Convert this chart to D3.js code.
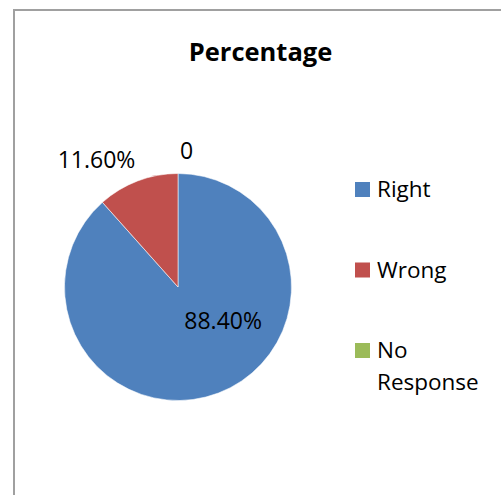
<!DOCTYPE html>
<html>
<head>
<meta charset="utf-8">
<script src="https://cdn.jsdelivr.net/npm/d3@7/dist/d3.min.js"></script>
<style>
  html, body { margin: 0; padding: 0; background: #fff; }
  svg { display: block; }
  text { font-family: "Open Sans", sans-serif; fill: #000; }
</style>
</head>
<body>
<svg id="chart" width="501" height="495"></svg>
<script>
// Survey answers, in percent
const categories = ["Right", "Wrong", "No Response"];
const values = [88.4, 11.6, 0];
const colors = ["#4F81BD", "#C0504D", "#9BBB59"];
const title = "Percentage";

const fmt = v => v === 0 ? "0" : v.toFixed(2) + "%";

const svg = d3.select("#chart");
const W = 501, H = 495;

// chart frame (runs off the right and bottom edges)
svg.append("rect")
  .attr("x", 14).attr("y", 10)
  .attr("width", W + 20).attr("height", H + 20)
  .attr("fill", "#fff")
  .attr("stroke", "#a0a0a0")
  .attr("stroke-width", 2);

svg.append("text")
  .attr("x", 260.5).attr("y", 61)
  .attr("text-anchor", "middle")
  .attr("font-weight", "bold")
  .attr("font-size", 25.5)
  .text(title);

const cx = 178, cy = 287, r = 113.5;
const data = categories.map((c, i) => ({ name: c, value: values[i], color: colors[i] }));

const pie = d3.pie().value(d => d.value).sort(null);
const arcs = pie(data);
const arc = d3.arc().innerRadius(0).outerRadius(r);

const g = svg.append("g").attr("transform", `translate(${cx},${cy})`);

g.selectAll("path.slice")
  .data(arcs.filter(a => a.value > 0))
  .join("path")
  .attr("class", "slice")
  .attr("d", arc)
  .attr("fill", a => a.data.color)
  .attr("stroke", "#fff")
  .attr("stroke-width", 0.8)
  .attr("stroke-opacity", 0.7);

// data labels: the large slice keeps its label inside, the others sit outside
const polar = (ang, rad) => [Math.sin(ang) * rad, -Math.cos(ang) * rad];
arcs.forEach(a => {
  const sweep = a.endAngle - a.startAngle;
  let x, y, anchor;
  if (sweep > Math.PI) {
    [x, y] = polar(a.startAngle + sweep * 0.4, r * 0.5);
    anchor = "middle";
  } else {
    const mid = (a.startAngle + a.endAngle) / 2;
    [x, y] = polar(mid, r + 23);
    const s = Math.sin(mid);
    anchor = s < -0.05 ? "end" : "start";
    if (anchor === "end") x += 6;
    else x += 2;
  }
  g.append("text")
    .attr("x", x).attr("y", y)
    .attr("dy", "0.35em")
    .attr("text-anchor", anchor)
    .attr("font-size", 23)
    .text(fmt(a.value));
});

// legend
const legendY = d3.scalePoint().domain(categories).range([197, 358]);
const lg = svg.append("g");
data.forEach(d => {
  const yb = legendY(d.name);
  lg.append("rect")
    .attr("x", 355).attr("y", yb - 15)
    .attr("width", 15).attr("height", 15)
    .attr("fill", d.color);
  const t = lg.append("text")
    .attr("x", 377).attr("y", yb)
    .attr("font-size", 22.5);
  const words = d.name.split(" ");
  words.forEach((w, i) => {
    t.append("tspan").attr("x", 377).attr("dy", i === 0 ? 0 : 32).text(w);
  });
});
</script>
</body>
</html>
